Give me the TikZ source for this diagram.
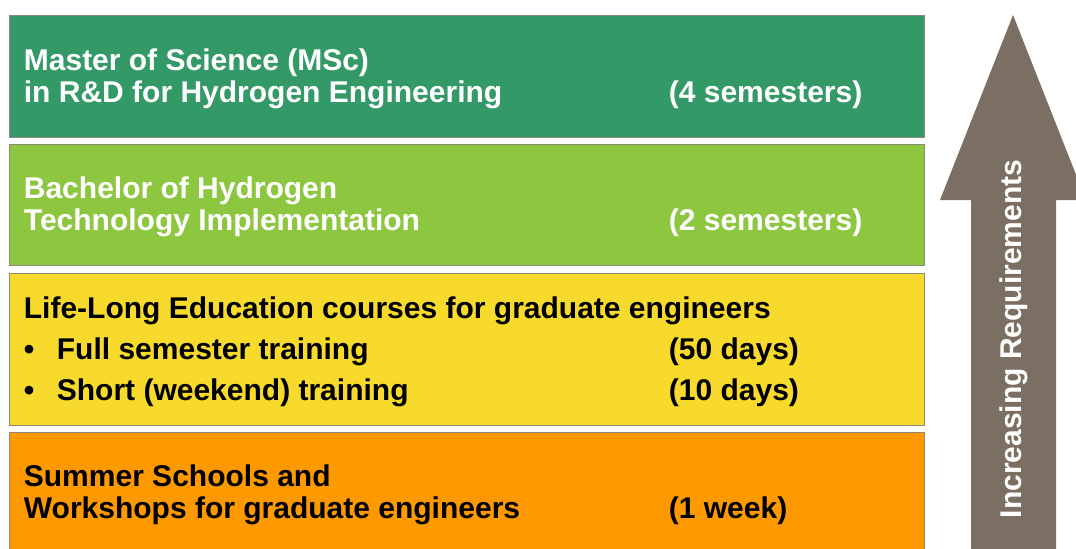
\documentclass[tikz,border=0pt]{standalone}
\usepackage{fontspec}
\setmainfont{Liberation Sans}
\usetikzlibrary{positioning}
\definecolor{mscgreen}{RGB}{51,153,102}
\definecolor{bscgreen}{RGB}{141,198,63}
\definecolor{lleyellow}{RGB}{248,218,44}
\definecolor{summerorange}{RGB}{255,153,0}
\definecolor{tiergray}{RGB}{140,136,120}
\definecolor{reqbrown}{RGB}{123,110,99}
\newcommand{\tiercol}[2]{\makebox[322.5pt][l]{#1}#2}
\newcommand{\tierbullet}{\makebox[16.5pt][l]{\textbullet}}
\tikzset{
  tier/.style={
    rectangle, draw=tiergray, line width=0.75pt,
    minimum width=457.5pt, outer sep=0pt
  },
  tiertext/.style={
    inner sep=0pt, align=left, yshift=-1pt,
    font=\fontsize{15}{16}\selectfont\bfseries
  },
  reqlabel/.style={
    inner sep=0pt, rotate=90, text=white,
    font=\fontsize{15}{16}\selectfont\bfseries
  }
}

\begin{document}
\begin{tikzpicture}[x=0.5pt, y=0.5pt, node distance=3.5pt]
\useasboundingbox (0,0) rectangle (1076,-548);
\clip (0,0) rectangle (1076,-548);

% Tiers, top to bottom
\node[tier, fill=mscgreen, minimum height=61pt, anchor=north west] (msc) at (9.5,-15.5) {};
\node[tier, fill=bscgreen, minimum height=60.5pt, below=of msc] (bsc) {};
\node[tier, fill=lleyellow, minimum height=76pt, below=4pt of bsc] (lle) {};
\node[tier, fill=summerorange, minimum height=60.5pt, below=of lle] (summer) {};

% Tier texts
\node[tiertext, text=white, right=7pt of msc.west] (msctext)
  {Master of Science (MSc)\\\tiercol{in R\&D for Hydrogen Engineering}{(4 semesters)}};
\node[tiertext, text=white, right=7pt of bsc.west] (bsctext)
  {Bachelor of Hydrogen\\\tiercol{Technology Implementation}{(2 semesters)}};
\node[tiertext, right=7pt of lle.west] (lletext)
  {Life-Long Education courses for graduate engineers\\[4.5pt]
   \tiercol{\tierbullet Full semester training}{(50 days)}\\[4.5pt]
   \tiercol{\tierbullet Short (weekend) training}{(10 days)}};
\node[tiertext, right=7pt of summer.west] (summertext)
  {Summer Schools and\\\tiercol{Workshops for graduate engineers}{(1 week)}};

% Big arrow on the right
\fill[reqbrown] (1013,-15) -- (1086,-200) -- (1056,-200) -- (1056,-560)
  -- (971,-560) -- (971,-200) -- (940,-200) -- cycle;
\node[reqlabel] (req) at (1013.5,-339) {Increasing Requirements};

\end{tikzpicture}
\end{document}
